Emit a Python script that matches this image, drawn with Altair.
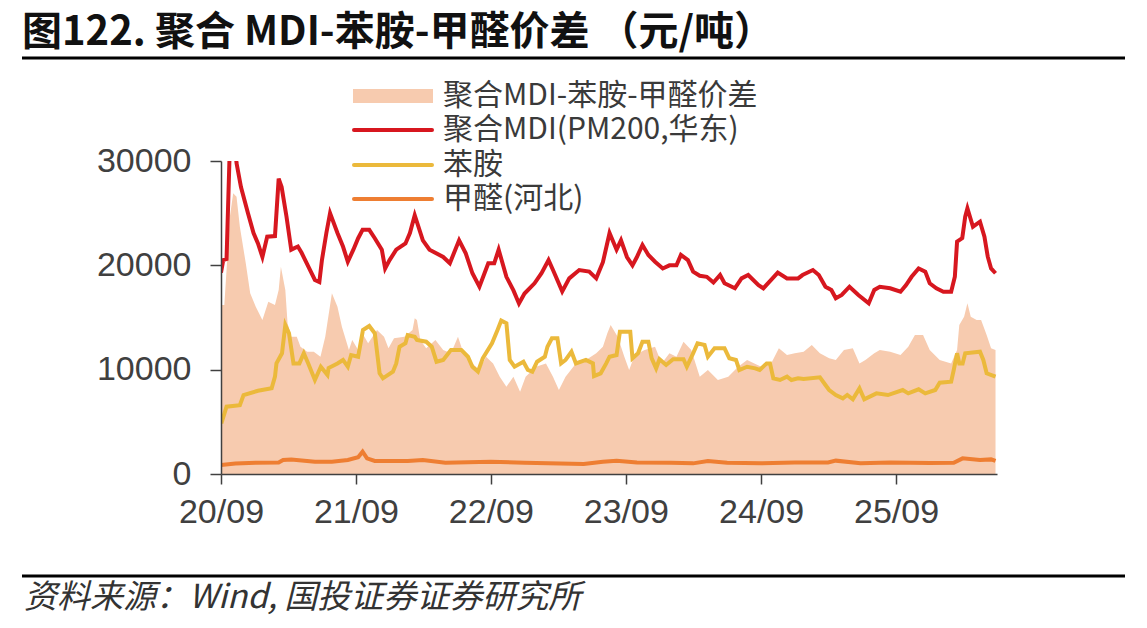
import altair as alt
import pandas as pd

# ---------------- data ----------------
spread_dates = [
    "2020-09-01", "2020-09-10", "2020-09-16", "2020-09-25", "2020-10-04", "2020-10-13", "2020-10-22",
    "2020-11-07", "2020-11-19", "2020-12-04", "2020-12-22", "2021-01-07", "2021-01-25", "2021-02-04",
    "2021-02-10", "2021-02-22", "2021-02-28", "2021-03-10", "2021-03-25", "2021-04-04", "2021-04-22",
    "2021-05-10", "2021-05-28", "2021-06-10", "2021-06-28", "2021-07-13", "2021-07-25", "2021-08-13",
    "2021-08-22", "2021-09-07", "2021-09-16", "2021-10-04", "2021-10-28", "2021-11-16", "2021-11-28",
    "2021-12-13", "2022-01-10", "2022-02-01", "2022-02-07", "2022-02-13", "2022-02-22", "2022-03-10",
    "2022-04-04", "2022-04-25", "2022-05-16", "2022-06-04", "2022-06-19", "2022-07-13", "2022-08-01",
    "2022-08-19", "2022-09-07", "2022-09-25", "2022-10-13", "2022-11-01", "2022-11-19", "2022-12-04",
    "2023-01-01", "2023-01-28", "2023-02-16", "2023-03-04", "2023-03-22", "2023-04-19", "2023-05-16",
    "2023-06-13", "2023-07-01", "2023-07-13", "2023-07-22", "2023-08-10", "2023-08-28", "2023-09-10",
    "2023-09-25", "2023-10-22", "2023-11-19", "2023-12-07", "2023-12-28", "2024-01-16", "2024-02-04",
    "2024-02-25", "2024-03-19", "2024-04-10", "2024-05-07", "2024-06-04", "2024-07-01", "2024-07-25",
    "2024-09-01", "2024-09-28", "2024-10-19", "2024-11-10", "2024-12-01", "2024-12-25", "2025-01-16",
    "2025-02-07", "2025-03-04", "2025-03-22", "2025-04-13", "2025-05-07", "2025-05-25", "2025-06-10",
    "2025-07-04", "2025-07-19", "2025-08-16", "2025-09-13", "2025-10-04", "2025-10-22", "2025-11-13",
    "2025-12-01", "2025-12-28", "2026-01-28", "2026-02-13", "2026-02-19", "2026-03-04", "2026-03-13",
    "2026-03-22", "2026-04-07", "2026-04-19", "2026-05-04", "2026-05-16", "2026-05-28",
]
spread_vals = [
    16200, 16200, 19550, 24660, 26900, 26580, 23700,
    20200, 17320, 16040, 14760, 16520, 16200, 17640,
    19870, 17640, 14440, 13160, 13160, 12200, 11720,
    11720, 11240, 13160, 17320, 16040, 14120, 11890,
    12840, 11890, 13640, 12530, 13800, 13160, 12050,
    13000, 13160, 13800, 14920, 14760, 12840, 12050,
    12840, 11890, 11570, 13160, 11570, 10600, 9970,
    11240, 10600, 9330, 8370, 9330, 7890, 9330,
    10280, 10600, 9330, 8050, 9330, 10600, 10930,
    11570, 12200, 13480, 14280, 13160, 11240, 9970,
    11400, 11890, 12200, 10600, 11570, 11240, 12680,
    11890, 9330, 9970, 9010, 9330, 10280, 10930,
    10280, 10600, 12050, 11400, 11570, 11720, 12360,
    11570, 11090, 10930, 11890, 12050, 10600, 10930,
    11570, 11890, 11720, 11400, 12200, 13320, 13320,
    11890, 10930, 10600, 11890, 14280, 15080, 16360,
    15080, 14760, 14760, 13320, 12050, 11890,
]

mdi_dates = [
    "2020-09-01", "2020-09-07", "2020-09-16", "2020-09-25", "2020-09-28", "2020-10-10", "2020-10-13",
    "2020-10-25", "2020-11-13", "2020-11-28", "2020-12-10", "2020-12-22", "2021-01-04", "2021-01-25",
    "2021-02-04", "2021-02-12", "2021-02-25", "2021-03-10", "2021-03-28", "2021-04-07", "2021-04-25",
    "2021-05-13", "2021-05-25", "2021-06-01", "2021-06-13", "2021-06-23", "2021-07-13", "2021-07-28",
    "2021-08-10", "2021-08-25", "2021-09-07", "2021-09-19", "2021-10-07", "2021-10-22", "2021-11-10",
    "2021-11-19", "2021-12-01", "2021-12-19", "2022-01-13", "2022-01-25", "2022-02-07", "2022-03-01",
    "2022-03-19", "2022-04-25", "2022-05-13", "2022-06-07", "2022-06-25", "2022-07-13", "2022-08-01",
    "2022-08-25", "2022-09-10", "2022-09-22", "2022-10-13", "2022-11-01", "2022-11-16", "2022-12-01",
    "2022-12-28", "2023-01-16", "2023-02-04", "2023-02-16", "2023-03-13", "2023-04-01", "2023-04-28",
    "2023-05-25", "2023-06-13", "2023-07-01", "2023-07-19", "2023-08-07", "2023-08-19", "2023-09-04",
    "2023-09-19", "2023-10-01", "2023-10-16", "2023-11-01", "2023-11-19", "2023-12-10", "2023-12-28",
    "2024-01-16", "2024-01-28", "2024-02-16", "2024-03-01", "2024-03-19", "2024-04-07", "2024-04-25",
    "2024-05-13", "2024-05-25", "2024-06-22", "2024-07-10", "2024-07-28", "2024-08-25", "2024-09-07",
    "2024-09-28", "2024-10-16", "2024-11-10", "2024-12-10", "2024-12-22", "2025-01-19", "2025-02-04",
    "2025-02-22", "2025-03-10", "2025-03-22", "2025-04-07", "2025-04-28", "2025-05-22", "2025-06-19",
    "2025-07-04", "2025-07-19", "2025-08-16", "2025-09-13", "2025-09-28", "2025-10-13", "2025-11-01",
    "2025-11-19", "2025-12-01", "2025-12-19", "2026-01-07", "2026-01-28", "2026-02-07", "2026-02-13",
    "2026-02-27", "2026-03-07", "2026-03-13", "2026-03-28", "2026-04-16", "2026-04-28", "2026-05-07",
    "2026-05-16", "2026-05-28",
]
mdi_vals = [
    19300, 20500, 20600, 31500, 33000, 31000, 29800,
    27500, 25000, 23100, 22100, 20800, 22750, 22800,
    28300, 27500, 24700, 21500, 21800, 21200, 19900,
    18600, 18400, 20500, 23100, 25000, 23100, 21800,
    20350, 21500, 22600, 23400, 23400, 22600, 21500,
    19700, 20500, 21500, 22100, 23100, 24800, 22400,
    21500, 20800, 20200, 22400, 21150, 19240, 17950,
    20200, 20200, 21500, 18900, 17600, 16350, 17300,
    18280, 19240, 20500, 19550, 17500, 18750, 19550,
    19400, 18750, 20300, 23100, 21500, 22400, 20800,
    20000, 20800, 21950, 21000, 20350, 19700, 20000,
    20000, 21000, 20500, 19400, 19000, 18900, 18350,
    19070, 18280, 17800, 18750, 19070, 18100, 17800,
    18600, 19300, 18750, 18750, 19070, 19550, 19070,
    17950, 17640, 16840, 17160, 17950, 17160, 16360,
    17640, 17950, 17800, 17470, 18100, 18900, 19700,
    19400, 18280, 17800, 17470, 17470, 18900, 22270,
    22600, 24660, 25470, 23700, 24180, 22750, 20830,
    19700, 19240,
]

aniline_dates = [
    "2020-09-02", "2020-09-16", "2020-10-22", "2020-11-01", "2020-12-10", "2021-01-16", "2021-01-25",
    "2021-01-29", "2021-02-13", "2021-02-22", "2021-03-04", "2021-03-16", "2021-04-01", "2021-04-13",
    "2021-04-25", "2021-05-13", "2021-05-29", "2021-06-16", "2021-06-19", "2021-07-13", "2021-07-28",
    "2021-08-10", "2021-08-19", "2021-09-07", "2021-09-20", "2021-10-07", "2021-10-22", "2021-11-04",
    "2021-11-13", "2021-12-10", "2021-12-19", "2021-12-28", "2022-01-13", "2022-01-19", "2022-02-07",
    "2022-02-13", "2022-03-10", "2022-03-25", "2022-04-07", "2022-04-25", "2022-05-16", "2022-06-13",
    "2022-07-01", "2022-07-13", "2022-07-28", "2022-08-10", "2022-09-04", "2022-09-19", "2022-09-29",
    "2022-10-13", "2022-10-22", "2022-11-04", "2022-11-28", "2022-12-10", "2022-12-22", "2023-01-04",
    "2023-01-25", "2023-02-01", "2023-02-13", "2023-02-28", "2023-03-10", "2023-03-22", "2023-04-07",
    "2023-04-19", "2023-05-16", "2023-06-04", "2023-06-07", "2023-06-25", "2023-07-10", "2023-07-19",
    "2023-08-07", "2023-08-16", "2023-09-13", "2023-09-19", "2023-10-04", "2023-10-16", "2023-11-01",
    "2023-11-10", "2023-11-22", "2023-12-01", "2023-12-19", "2024-01-07", "2024-02-04", "2024-02-13",
    "2024-03-01", "2024-03-13", "2024-04-01", "2024-04-10", "2024-04-28", "2024-05-25", "2024-06-07",
    "2024-06-25", "2024-07-04", "2024-07-25", "2024-08-16", "2024-08-28", "2024-09-16", "2024-09-25",
    "2024-10-04", "2024-10-22", "2024-11-10", "2024-11-22", "2024-12-10", "2024-12-25", "2025-02-07",
    "2025-02-22", "2025-03-04", "2025-03-22", "2025-04-10", "2025-04-22", "2025-05-07", "2025-05-25",
    "2025-06-07", "2025-07-10", "2025-08-10", "2025-09-19", "2025-10-04", "2025-11-01", "2025-11-19",
    "2025-12-16", "2025-12-28", "2026-01-28", "2026-02-04", "2026-02-13", "2026-02-19", "2026-02-28",
    "2026-03-07", "2026-04-16", "2026-04-25", "2026-05-04", "2026-05-28",
]
aniline_vals = [
    4860, 6450, 6600, 7570, 7980, 8210, 9330,
    10600, 11570, 14280, 13480, 10600, 10600, 11570,
    10600, 9010, 10280, 9490, 10150, 10600, 10930,
    10280, 11400, 11240, 13800, 14190, 13480, 9650,
    9170, 9810, 10600, 12200, 12530, 13320, 13160,
    12840, 12680, 12200, 10760, 10930, 11890, 11890,
    11240, 10280, 9810, 11090, 12530, 13800, 14700,
    14450, 10930, 10280, 10760, 9970, 9810, 10760,
    11240, 12200, 13000, 13000, 10600, 10930, 11720,
    10600, 10930, 10600, 9390, 9650, 10600, 11240,
    11400, 13640, 13640, 11090, 11570, 12680, 12680,
    11090, 10130, 11000, 10450, 11000, 11000, 10280,
    11570, 12530, 12370, 11240, 12050, 12050, 11090,
    10930, 9970, 10280, 10130, 9970, 10600, 10600,
    9170, 9010, 9330, 9010, 9170, 9100, 9270,
    8530, 8050, 7570, 7250, 7570, 7160, 8210,
    7160, 7730, 7570, 8050, 7730, 8120, 7730,
    8050, 8750, 8850, 9970, 11570, 10600, 10600,
    11570, 11720, 10930, 9650, 9330,
]

hcho_dates = [
    "2020-09-01", "2020-10-10", "2020-12-04", "2021-02-04", "2021-02-16", "2021-03-10", "2021-05-13",
    "2021-06-28", "2021-08-10", "2021-09-07", "2021-09-19", "2021-10-01", "2021-10-22", "2022-01-19",
    "2022-03-01", "2022-05-01", "2022-09-01", "2022-12-01", "2023-05-10", "2023-07-01", "2023-08-07",
    "2023-10-01", "2024-01-01", "2024-03-01", "2024-04-10", "2024-06-01", "2024-09-01", "2024-12-01",
    "2025-03-01", "2025-03-22", "2025-05-28", "2025-08-16", "2025-12-01", "2026-02-04", "2026-02-28",
    "2026-04-16", "2026-05-16", "2026-05-28",
]
hcho_vals = [
    860, 1000, 1080, 1110, 1340, 1400, 1180,
    1180, 1340, 1600, 2140, 1500, 1250, 1250,
    1340, 1080, 1180, 1080, 960, 1180, 1280,
    1100, 1080, 1020, 1250, 1080, 1020, 1110,
    1110, 1280, 1020, 1110, 1050, 1080, 1500,
    1340, 1400, 1250,
]

x_tick_dates = [(2020, 9), (2021, 9), (2022, 9), (2023, 9), (2024, 9), (2025, 9)]
y_ticks = [0, 10000, 20000, 30000]

title_text = "图122. 聚合 MDI-苯胺-甲醛价差 （元/吨）"
source_text = "资料来源：Wind, 国投证券证券研究所"
legend_labels = ["聚合MDI-苯胺-甲醛价差", "聚合MDI(PM200,华东)", "苯胺", "甲醛(河北)"]
colors = {"spread": "#F7CBAF", "mdi": "#D7171F", "aniline": "#EBB93B", "hcho": "#EE7E32"}

# ---------------- chart ----------------
df_spread = pd.DataFrame({"date": spread_dates, "value": spread_vals})
df_mdi = pd.DataFrame({"date": mdi_dates, "value": mdi_vals})
df_ani = pd.DataFrame({"date": aniline_dates, "value": aniline_vals})
df_hcho = pd.DataFrame({"date": hcho_dates, "value": hcho_vals})
dummy = pd.DataFrame({"k": [0]})

AX = "#404040"
NUM_FONT = "Liberation Sans"
CJK_FONT = "Noto Sans CJK SC"

x_enc = alt.X(
    "date:T",
    scale=alt.Scale(
        type="utc",
        domain=[alt.DateTime(year=2020, month=9, date=1, utc=True),
                alt.DateTime(year=2026, month=6, date=1, utc=True)],
    ),
    axis=alt.Axis(
        values=[alt.DateTime(year=y, month=m, date=1, utc=True) for y, m in x_tick_dates],
        format="%y/%m", labelFont=NUM_FONT, labelFontSize=34, labelColor=AX,
        tickSize=10, tickColor=AX, tickWidth=1.5, domainColor=AX, domainWidth=1.5,
        labelPadding=11, grid=False, title=None, labelFlush=False, labelOverlap=False,
        zindex=1,
    ),
)
y_enc = alt.Y(
    "value:Q",
    scale=alt.Scale(domain=[0, 30000], nice=False),
    axis=alt.Axis(
        values=y_ticks, format="d", labelFont=NUM_FONT, labelFontSize=34, labelColor=AX,
        tickSize=11, tickColor=AX, tickWidth=1.5, domainColor=AX, domainWidth=1.5,
        labelPadding=19, grid=False, title=None, zindex=1,
    ),
)

area = alt.Chart(df_spread).mark_area(color=colors["spread"], clip=True).encode(x=x_enc, y=y_enc)
hcho = alt.Chart(df_hcho).mark_line(color=colors["hcho"], strokeWidth=4, clip=True).encode(x="date:T", y="value:Q")
ani = alt.Chart(df_ani).mark_line(color=colors["aniline"], strokeWidth=4, clip=True).encode(x="date:T", y="value:Q")
mdi = alt.Chart(df_mdi).mark_line(color=colors["mdi"], strokeWidth=4, clip=True).encode(x="date:T", y="value:Q")

layers = [area, hcho, ani, mdi]

# title, rules, source
layers.append(alt.Chart(dummy).mark_text(
    text=title_text, font=CJK_FONT, fontSize=40, fontWeight="bold", color="#111111",
    align="left", baseline="middle").encode(x=alt.value(-199), y=alt.value(-128)))
layers.append(alt.Chart(dummy).mark_rule(color="#000000", strokeWidth=3).encode(
    x=alt.value(-199), x2=alt.value(904), y=alt.value(-103)))
layers.append(alt.Chart(dummy).mark_rule(color="#000000", strokeWidth=3).encode(
    x=alt.value(-199), x2=alt.value(904), y=alt.value(415)))
layers.append(alt.Chart(dummy).mark_text(
    text=source_text, font=CJK_FONT, fontSize=33, fontStyle="italic", color="#333333",
    align="left", baseline="middle").encode(x=alt.value(-197), y=alt.value(437)))

# legend
legend_rows_y = [-65, -31, 4, 38]
layers.append(alt.Chart(dummy).mark_rect(color=colors["spread"]).encode(
    x=alt.value(132), x2=alt.value(212), y=alt.value(legend_rows_y[0] - 7), y2=alt.value(legend_rows_y[0] + 7)))
for key, ry in zip(["mdi", "aniline", "hcho"], legend_rows_y[1:]):
    layers.append(alt.Chart(dummy).mark_rule(color=colors[key], strokeWidth=4, strokeCap="round").encode(
        x=alt.value(133), x2=alt.value(211), y=alt.value(ry)))
for label, ry in zip(legend_labels, legend_rows_y):
    layers.append(alt.Chart(dummy).mark_text(
        text=label, font=CJK_FONT, fontSize=30, color="#3a3a3a",
        align="left", baseline="middle").encode(x=alt.value(222), y=alt.value(ry)))

chart = alt.layer(*layers).properties(
    width=776, height=313,
    autosize=alt.AutoSizeParams(type="none"),
    padding={"left": 221, "top": 161, "right": 150, "bottom": 154},
    background="white",
).configure_view(stroke=None)

chart.save("out.html", embed_options={"renderer": "svg", "actions": False})
